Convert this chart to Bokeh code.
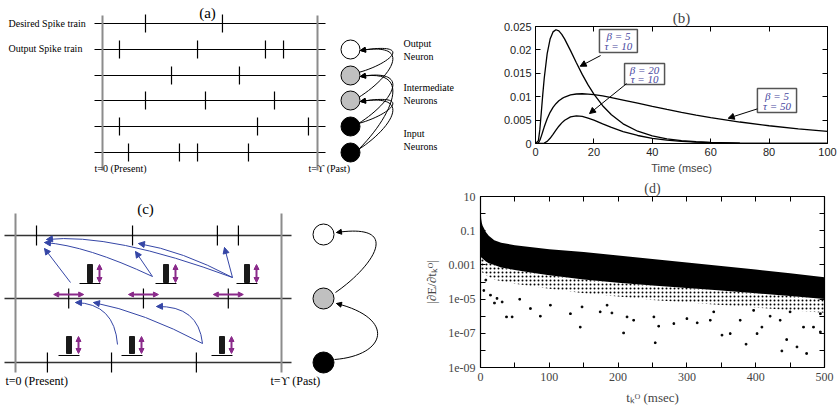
from bokeh.plotting import figure
from bokeh.layouts import column, row
from bokeh.models import Range1d, Arrow, NormalHead, LinearAxis, LogAxis, FixedTicker
from bokeh.embed import file_html
from bokeh.resources import INLINE
from bokeh.core.properties import value

SERIF = "Liberation Serif"
SANS = "Liberation Sans"

# ---------------- data ----------------
# panel (a): spike times as fraction of the window (0 = present, 1 = Upsilon)
a_desired = [0.2, 0.558]
a_output = [0.079, 0.442, 0.758, 0.842]
a_inter1 = [0.321, 0.637]
a_inter2 = [0.2, 0.479, 0.8]
a_input1 = [0.079, 0.721, 0.958]
a_input2 = [0.121, 0.358, 0.442, 0.679]
a_row_labels = ["Desired Spike train", "Output Spike train"]
a_neuron_labels = [["Output", "Neuron"], ["Intermediate", "Neurons"], ["Input", "Neurons"]]

# panel (c)
c_output = [0.079, 0.44, 0.759, 0.838]
c_inter = [0.2, 0.481, 0.8]
c_input = [0.12, 0.361, 0.68]

# panel (b): response kernels
b_time = [0, 1, 1.5, 2, 2.5, 3, 4, 5, 6, 7, 8, 9, 10, 12, 14, 16, 18, 20, 23, 26,
          30, 35, 40, 45, 50, 55, 60, 70, 80, 90, 100]
b_b5_t10 = [0, 0.00061, 0.00307, 0.00672, 0.01054, 0.01399, 0.0192, 0.02231, 0.02385,
            0.02431, 0.02405, 0.02333, 0.02231, 0.01985, 0.01725, 0.01477, 0.01252,
            0.01054, 0.00807, 0.00613, 0.00421, 0.00262, 0.00162, 0.00099, 0.00061,
            0.00037, 0.00023, 0.000085, 0.00003, 0.00001, 0.000004]
b_b20_t10 = [0, 0, 0, 0.0000037, 0.000026, 0.000094, 0.00045, 0.00111, 0.00196, 0.00285,
             0.00369, 0.00441, 0.00498, 0.00569, 0.00591, 0.00578, 0.00544, 0.00498,
             0.0042, 0.00344, 0.00256, 0.00171, 0.00111, 0.00071, 0.00045, 0.00028,
             0.00018, 0.00007, 0.000026, 0.00001, 0.000004]
b_b5_t50 = [0, 0.000132, 0.00069, 0.00158, 0.00257, 0.00356, 0.00529, 0.00666, 0.00771,
            0.00851, 0.00912, 0.00958, 0.00993, 0.01037, 0.01058, 0.01063, 0.01057,
            0.01044, 0.01016, 0.00981, 0.00929, 0.00861, 0.00793, 0.00728, 0.00666,
            0.00608, 0.00554, 0.00459, 0.00379, 0.00313, 0.00257]
b_labels = [("\u03b2 = 5", "\u03c4 = 10"), ("\u03b2 = 20", "\u03c4 = 10"), ("\u03b2 = 5", "\u03c4 = 50")]
b_xticks = [0, 20, 40, 60, 80, 100]
b_yticks = [0, 0.005, 0.01, 0.015, 0.02, 0.025]
b_ytick_labels = ["0", "0.005", "0.01", "0.015", "0.02", "0.025"]

# panel (d): gradient magnitudes
d_band_x = [0, 1, 2, 3, 5, 8, 12, 20, 30, 50, 75, 100, 150, 200, 250, 300, 350, 400, 450, 500]
d_band_upper = [2.0, 0.5, 0.28, 0.2, 0.14, 0.08, 0.05, 0.028, 0.02, 0.014, 0.0107, 0.0083,
                0.0056, 0.0036, 0.0022, 0.0014, 0.00085, 0.00054, 0.00032, 0.00019]
d_band_lower = [3.2e-3, 2.8e-3, 2.5e-3, 2.4e-3, 2.0e-3, 1.6e-3, 1.26e-3, 1.0e-3, 7.1e-4,
                5.0e-4, 3.5e-4, 2.5e-4, 1.4e-4, 8.9e-5, 6.3e-5, 4.5e-5, 3.2e-5, 2.2e-5,
                1.5e-5, 1.0e-5]
d_sparse_lower = [5.0e-4, 4.5e-4, 4.0e-4, 3.5e-4, 3.2e-4, 2.5e-4, 2.0e-4, 1.4e-4, 1.1e-4,
                  7.9e-5, 5.6e-5, 4.0e-5, 2.2e-5, 1.4e-5, 8.9e-6, 6.3e-6, 4.5e-6, 3.2e-6,
                  2.2e-6, 1.6e-6]
d_pts_x = [4.8, 7.7, 14.5, 20.3, 24, 31.5, 37.8, 46, 57, 72.6, 87, 101.6, 130.7, 145, 147.6,
           174, 184, 191, 208, 213, 222.6, 252, 254, 259, 281, 300, 315, 334, 339, 351, 363,
           377.5, 386, 397, 402, 409, 421, 435.6, 438, 445, 450, 460, 469.5, 474, 484, 494, 494]
d_pts_y = [3.2e-5, 1.3e-4, 1.7e-5, 5.9e-6, 1.1e-5, 6.8e-6, 9.1e-7, 9.1e-7, 9.8e-6, 2.8e-6,
           1.0e-6, 4.4e-6, 1.4e-6, 2.3e-7, 3.5e-6, 1.8e-6, 4.4e-6, 1.55e-6, 1.05e-7, 9.1e-7,
           5.8e-7, 9.1e-7, 2.8e-8, 2.6e-7, 3.7e-7, 7.2e-7, 4.1e-7, 5.8e-7, 1.8e-6, 7.8e-8,
           9.6e-8, 5.8e-7, 2.3e-8, 2.2e-6, 9.6e-8, 2.3e-7, 1.0e-6, 5.8e-7, 9.3e-9, 4.3e-8,
           1.8e-6, 1.6e-8, 2.3e-7, 6.6e-9, 2.3e-7, 1.2e-7, 1.4e-6]
d_xticks = [0, 100, 200, 300, 400, 500]
d_xminor = [50, 150, 250, 350, 450]
d_yticks = [1e-9, 1e-7, 1e-5, 1e-3, 1e-1, 10]
d_ytick_labels = ["1e-09", "1e-07", "1e-05", "0.001", "0.1", "10"]
d_yminor = [1e-8, 1e-6, 1e-4, 1e-2, 1]

# ---------------- helpers ----------------
def no_align(p):
    try:
        p.frame_align = False
    except Exception:
        pass


def canvas(w, h, y0):
    p = figure(width=w, height=h, x_range=Range1d(0, w), y_range=Range1d(y0 + h, y0),
               output_backend="svg", toolbar_location=None, min_border=0,
               x_axis_location=None, y_axis_location=None)
    p.grid.visible = False
    p.outline_line_color = None
    no_align(p)
    return p


def head(p, xf, yf, xt, yt, color, size=6, both=False, lw=1):
    dx, dy = xt - xf, yt - yf
    n = (dx * dx + dy * dy) ** 0.5
    ux, uy = dx / n, dy / n
    if both:
        p.add_layout(Arrow(end=NormalHead(size=size, fill_color=color, line_color=color),
                           start=NormalHead(size=size, fill_color=color, line_color=color),
                           x_start=xf, y_start=yf, x_end=xt, y_end=yt,
                           line_color=color, line_width=lw))
    else:
        p.add_layout(Arrow(end=NormalHead(size=size, fill_color=color, line_color=color, line_width=1),
                           x_start=xt - 1.5 * ux, y_start=yt - 1.5 * uy, x_end=xt, y_end=yt,
                           line_color=color, line_width=1))


def spikes(p, times, y, X0, X1, half, color="black", width=1.2):
    xs = [X0 + t * (X1 - X0) for t in times]
    p.segment(x0=xs, y0=[y - half] * len(xs), x1=xs, y1=[y + half] * len(xs),
              line_color=color, line_width=width)


def txt(p, x, y, s, size, align="left", style="normal", color="black", font=SERIF):
    p.text(x=[x], y=[y], text=[s], text_font=value(font), text_font_size=size,
           text_align=align, text_baseline="middle", text_font_style=style, text_color=color)


def mirror_axis(cls, ticks, minor=None):
    tk = FixedTicker(ticks=ticks, minor_ticks=minor or [])
    return cls(ticker=tk, major_label_text_font_size="1px", major_label_text_color=None,
               major_label_standoff=0, major_tick_in=5, major_tick_out=0,
               minor_tick_in=5, minor_tick_out=0, axis_line_color=None,
               minor_tick_line_color="black" if minor else None)

# ---------------- panel (a) ----------------
pa = canvas(470, 178, 0)
AX0, AX1 = 102, 317
a_rows = [23, 49, 75, 100, 126, 152]
pa.segment(x0=[94] * 6, y0=a_rows, x1=[325] * 6, y1=a_rows, line_color="black", line_width=1)
pa.segment(x0=[AX0, AX1], y0=[15, 15], x1=[AX0, AX1], y1=[170, 170], line_color="#8c8c8c", line_width=2)
for tr, y in zip([a_desired, a_output, a_inter1, a_inter2, a_input1, a_input2], a_rows):
    spikes(pa, tr, y, AX0, AX1, 9)
txt(pa, 207, 12, "(a)", "15px", align="center")
txt(pa, 8, 23, a_row_labels[0], "10px")
txt(pa, 8, 48, a_row_labels[1], "10px")
txt(pa, 94, 168, "t=0 (Present)", "10px")
txt(pa, 308, 168, "t=\u03d2 (Past)", "10px")
for (l1, l2), yy in zip(a_neuron_labels, [43, 87, 133]):
    txt(pa, 403, yy, l1, "10px")
    txt(pa, 403, yy + 13, l2, "10px")
NX = 350
n_y = [49, 75, 100, 126, 152]
for s, d in [(75, 49), (100, 49), (126, 75), (152, 75), (126, 100), (152, 100)]:
    x0, y0 = 358, s - 3
    cx0, cy0 = 390, s - 0.45 * (s - d)
    cx1, cy1 = 415, d - 8
    x1, y1 = 360, d + 1
    pa.bezier(x0=[x0], y0=[y0], x1=[x1], y1=[y1], cx0=[cx0], cy0=[cy0], cx1=[cx1], cy1=[cy1],
              line_color="black", line_width=1)
    head(pa, cx1, cy1, x1, y1, "black", size=5)
pa.scatter(x=[NX] * 5, y=n_y, size=19, fill_color=["white", "#c0c0c0", "#c0c0c0", "black", "black"],
           line_color="black", line_width=1)

# ---------------- panel (c) ----------------
pc = canvas(420, 240, 178)
CX0, CX1 = 15, 281
c_rows = [235, 298, 362]
pc.segment(x0=[4] * 3, y0=c_rows, x1=[291] * 3, y1=c_rows, line_color="#333333", line_width=1.3)
pc.segment(x0=[CX0, CX1], y0=[213, 213], x1=[CX0, CX1], y1=[372, 372], line_color="#8c8c8c", line_width=2)
for tr, y in zip([c_output, c_inter, c_input], c_rows):
    spikes(pc, tr, y, CX0, CX1, 10)
txt(pc, 145, 208, "(c)", "15px", align="center")
txt(pc, 5, 380, "t=0 (Present)", "12px")
txt(pc, 270, 380, "t=\u03d2 (Past)", "12px")

BLUE = "#3546a6"
blue_curves = [((70, 282), None, (44, 248)),
               ((152, 276), (86, 245), (44, 242)),
               ((152, 276), None, (135, 251)),
               ((232, 277), (111, 232), (46, 239)),
               ((232, 277), (181, 250), (138, 243)),
               ((232, 277), None, (224, 247)),
               ((117, 344), (114, 303), (75, 302)),
               ((202, 343), (142.5, 311.5), (93, 302)),
               ((202, 343), (198, 305), (156, 306))]
for (sx, sy), ctrl, (ex, ey) in blue_curves:
    if ctrl is None:
        ctrl = ((sx + ex) / 2, (sy + ey) / 2)
    pc.quadratic(x0=[sx], y0=[sy], x1=[ex], y1=[ey], cx=[ctrl[0]], cy=[ctrl[1]],
                 line_color=BLUE, line_width=1)
    head(pc, ctrl[0], ctrl[1], ex, ey, BLUE, size=6)

PURPLE = "#8a2a8a"
for t in c_inter:
    cx = CX0 + t * (CX1 - CX0)
    head(pc, cx - 15, 294, cx + 15, 294, PURPLE, size=5, both=True, lw=2)
bar_top_left = [87, 163, 244]
bar_bot_left = [66, 129, 219]
for lefts, ytop, ybot, ybase in [(bar_top_left, 264, 282, 283), (bar_bot_left, 336, 353, 355)]:
    pc.quad(left=lefts, right=[l + 5 for l in lefts], top=[ytop] * 3, bottom=[ybot] * 3,
            fill_color="#1a1a1a", line_color="#1a1a1a")
    pc.segment(x0=[l - 8 for l in lefts], y0=[ybase] * 3, x1=[l + 13 for l in lefts], y1=[ybase] * 3,
               line_color="black", line_width=1)
    for l in lefts:
        head(pc, l + 12, ytop, l + 12, ybot, PURPLE, size=5, both=True, lw=2)

pc.bezier(x0=[334], y0=[359], x1=[336], y1=[303], cx0=[386], cy0=[355], cx1=[396], cy1=[318],
          line_color="black", line_width=1)
head(pc, 396, 318, 336, 303, "black", size=5)
pc.bezier(x0=[335], y0=[292], x1=[336], y1=[232], cx0=[370], cy0=[268], cx1=[405], cy1=[222],
          line_color="black", line_width=1)
head(pc, 405, 222, 336, 232, "black", size=5)
pc.scatter(x=[323] * 3, y=[234, 298, 362], size=21, fill_color=["white", "#c0c0c0", "black"],
           line_color="black", line_width=1)

# ---------------- panel (b) ----------------
pb = figure(width=369, height=178, x_range=Range1d(0, 100), y_range=Range1d(0, 0.025),
            output_backend="svg", toolbar_location=None, title="(b)",
            min_border_left=65, min_border_right=12, min_border_top=26, min_border_bottom=35)
no_align(pb)
pb.title.align = "center"
pb.title.text_font = SERIF
pb.title.text_font_size = "15px"
pb.title.text_font_style = "normal"
pb.title.standoff = 2
pb.grid.visible = False
pb.outline_line_color = "black"
pb.outline_line_width = 1
for ax in pb.xaxis + pb.yaxis:
    ax.axis_line_color = None
    ax.major_tick_in = 5
    ax.major_tick_out = 0
    ax.minor_tick_line_color = None
    ax.major_label_text_font = SANS
    ax.major_label_text_font_size = "11px"
    ax.major_label_text_color = "#222222"
    ax.major_label_standoff = 4
pb.xaxis.ticker = FixedTicker(ticks=b_xticks)
pb.yaxis.ticker = FixedTicker(ticks=b_yticks)
pb.yaxis.major_label_overrides = {t: l for t, l in zip(b_yticks, b_ytick_labels)}
pb.xaxis.axis_label = "Time (msec)"
pb.xaxis.axis_label_text_font = SANS
pb.xaxis.axis_label_text_font_size = "11px"
pb.xaxis.axis_label_text_font_style = "normal"
pb.xaxis.axis_label_standoff = 3
pb.add_layout(mirror_axis(LinearAxis, b_xticks), "above")
pb.add_layout(mirror_axis(LinearAxis, b_yticks), "right")
for ys in [b_b5_t10, b_b20_t10, b_b5_t50]:
    pb.line(b_time, ys, line_color="black", line_width=1.3)
box_l = [21.9, 30.5, 76]
box_r = [34.9, 44.2, 89.4]
box_t = [0.02436, 0.01709, 0.01175]
box_b = [0.01944, 0.01261, 0.00662]
arrows_b = [((22.3, 0.0188), (15.3, 0.0165)), ((31.2, 0.0128), (18.5, 0.0064)), ((76, 0.0074), (66, 0.0054))]
for (x0, y0), (x1, y1) in arrows_b:
    pb.add_layout(Arrow(end=NormalHead(size=6, fill_color="black", line_color="black"),
                        x_start=x0, y_start=y0, x_end=x1, y_end=y1, line_color="black", line_width=1))
pb.quad(left=box_l, right=box_r, top=box_t, bottom=box_b, fill_color="white", line_color="#555555",
        line_width=1.5)
for (l1, l2), l, r, t, b in zip(b_labels, box_l, box_r, box_t, box_b):
    h = t - b
    txt(pb, (l + r) / 2, t - 0.3 * h, l1, "11px", align="center", style="italic", color="#4848a0")
    txt(pb, (l + r) / 2, t - 0.72 * h, l2, "11px", align="center", style="italic", color="#4848a0")

# ---------------- panel (d) ----------------
pdd = figure(width=419, height=240, x_range=Range1d(0, 500), y_range=Range1d(1e-9, 10),
             y_axis_type="log", output_backend="svg", toolbar_location=None, title="(d)",
             min_border_left=60, min_border_right=15, min_border_top=18, min_border_bottom=51)
no_align(pdd)
pdd.title.align = "center"
pdd.title.text_font = SERIF
pdd.title.text_font_size = "14px"
pdd.title.text_font_style = "normal"
pdd.title.standoff = 1
pdd.grid.visible = False
pdd.outline_line_color = "black"
pdd.outline_line_width = 1.2
pdd.xaxis.ticker = FixedTicker(ticks=d_xticks, minor_ticks=d_xminor)
pdd.yaxis.ticker = FixedTicker(ticks=d_yticks, minor_ticks=d_yminor)
pdd.yaxis.major_label_overrides = {t: l for t, l in zip(d_yticks, d_ytick_labels)}
for ax in pdd.xaxis + pdd.yaxis:
    ax.axis_line_color = None
    ax.major_tick_in = 5
    ax.major_tick_out = 0
    ax.minor_tick_in = 5
    ax.minor_tick_out = 0
    ax.major_label_text_font = SERIF
    ax.major_label_text_font_size = "12px"
    ax.major_label_standoff = 5
    ax.axis_label_text_font = SERIF
    ax.axis_label_text_font_size = "13px"
    ax.axis_label_text_font_style = "normal"
pdd.yaxis.axis_label = "|\u2202E/\u2202t\u2096\u1d3c|"
pdd.yaxis.axis_label_standoff = 6
pdd.xaxis.axis_label = "t\u2096\u1d3c (msec)"
pdd.xaxis.axis_label_standoff = 6
pdd.add_layout(mirror_axis(LinearAxis, d_xticks, d_xminor), "above")
pdd.add_layout(mirror_axis(LogAxis, d_yticks, d_yminor), "right")
pdd.varea(x=d_band_x, y1=d_sparse_lower, y2=d_band_lower, fill_alpha=0, hatch_pattern="dot",
          hatch_color="black", hatch_scale=4, hatch_weight=1.5)
pdd.varea(x=d_band_x, y1=d_band_lower, y2=d_band_upper, fill_color="black")
pdd.scatter(d_pts_x, d_pts_y, marker="square", size=1.6, color="black")

layout = column(row(pa, pb), row(pc, pdd))
open("out.html", "w").write(file_html(layout, INLINE))
